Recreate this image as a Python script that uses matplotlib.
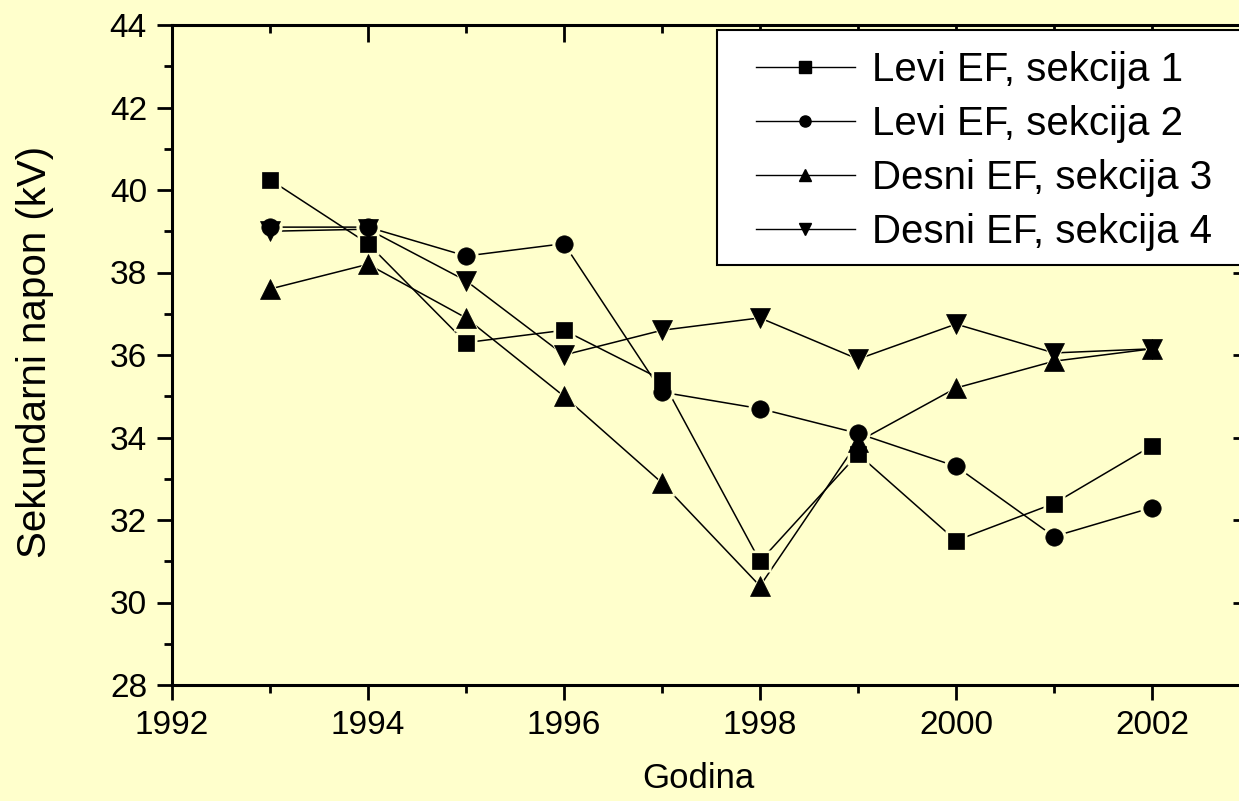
# Sekundarni napon po sekcijama elektrofiltera, 1993-2002
import numpy as np
import matplotlib.pyplot as plt
from matplotlib.ticker import MultipleLocator
from matplotlib.lines import Line2D
from matplotlib.patches import Rectangle

plt.rcParams['font.family'] = ['Liberation Sans', 'DejaVu Sans']

godine = [1993, 1994, 1995, 1996, 1997, 1998, 1999, 2000, 2001, 2002]
sekcija1 = [40.25, 38.7, 36.3, 36.6, 35.4, 31.0, 33.6, 31.5, 32.4, 33.8]
sekcija2 = [39.1, 39.1, 38.4, 38.7, 35.1, 34.7, 34.1, 33.3, 31.6, 32.3]
sekcija3 = [37.6, 38.2, 36.9, 35.0, 32.9, 30.4, 33.9, 35.2, 35.85, 36.15]
sekcija4 = [39.0, 39.05, 37.8, 36.0, 36.6, 36.9, 35.9, 36.75, 36.05, 36.15]
nazivi = ['Levi EF, sekcija 1', 'Levi EF, sekcija 2',
          'Desni EF, sekcija 3', 'Desni EF, sekcija 4']

pozadina = '#FFFFCC'
serije = [(sekcija1, 's', 11.5), (sekcija2, 'o', 12.5),
          (sekcija3, '^', 14), (sekcija4, 'v', 14)]

fig = plt.figure(figsize=(12.39, 8.01), dpi=100, facecolor=pozadina)
ax = fig.add_axes([172/1239, 1-685/801, (1250-172)/1239, 660/801])
ax.set_facecolor(pozadina)

# linije, pa "oreol" u boji pozadine, pa crni markeri (razmak kao u Originu)
for y, m, ms in serije:
    ax.plot(godine, y, '-', color='black', lw=1.1, zorder=2)
for y, m, ms in serije:
    ax.plot(godine, y, ls='none', marker=m, ms=ms+5, color=pozadina,
            mec='none', zorder=3)
for y, m, ms in serije:
    ax.plot(godine, y, ls='none', marker=m, ms=ms, color='black',
            mec='black', mew=0.5, zorder=4)

ax.set_xlim(1992, 2003)
ax.set_ylim(28, 44)
ax.xaxis.set_major_locator(MultipleLocator(2))
ax.xaxis.set_minor_locator(MultipleLocator(1))
ax.yaxis.set_major_locator(MultipleLocator(2))
ax.yaxis.set_minor_locator(MultipleLocator(1))
ax.tick_params(which='major', direction='out', length=11, width=2,
               labelsize=24, pad=7)
ax.tick_params(which='minor', direction='out', length=6, width=2)
for s in ax.spines.values():
    s.set_linewidth(2.2)

# gornje i desne crtice okrenute unutra
top = ax.secondary_xaxis('top')
top.xaxis.set_major_locator(MultipleLocator(2))
top.xaxis.set_minor_locator(MultipleLocator(1))
top.tick_params(which='major', direction='in', length=12, width=2, labeltop=False)
top.tick_params(which='minor', direction='in', length=6, width=2)
right = ax.secondary_yaxis('right')
right.yaxis.set_major_locator(MultipleLocator(2))
right.yaxis.set_minor_locator(MultipleLocator(1))
right.tick_params(which='major', direction='in', length=12, width=2, labelright=False)
right.tick_params(which='minor', direction='in', length=6, width=2)

fig.text(698/1239, 1-778/801, 'Godina', fontsize=25, ha='center', va='center')
fig.text(35/1239, 1-352/801, 'Sekundarni napon (kV)', fontsize=29,
         ha='center', va='center', rotation=90)

# okvir legende
okvir = Rectangle((717/1239, 1-265/801), (1250-717)/1239, 235/801,
                  transform=fig.transFigure, facecolor='white',
                  edgecolor='black', lw=1.5, zorder=5)
fig.add_artist(okvir)

rucke = [Line2D([], [], color='black', lw=1, marker=m, ms=8)
         for y, m, ms in serije]
leg = fig.legend(rucke, nazivi, loc='upper left',
                 bbox_to_anchor=(756/1239, 1-51/801), fontsize=29,
                 frameon=False, borderaxespad=0, borderpad=0,
                 handlelength=2.45, handletextpad=0.42, labelspacing=0.4)
leg.set_zorder(6)

fig.savefig('out.png', dpi=100, facecolor=pozadina)
